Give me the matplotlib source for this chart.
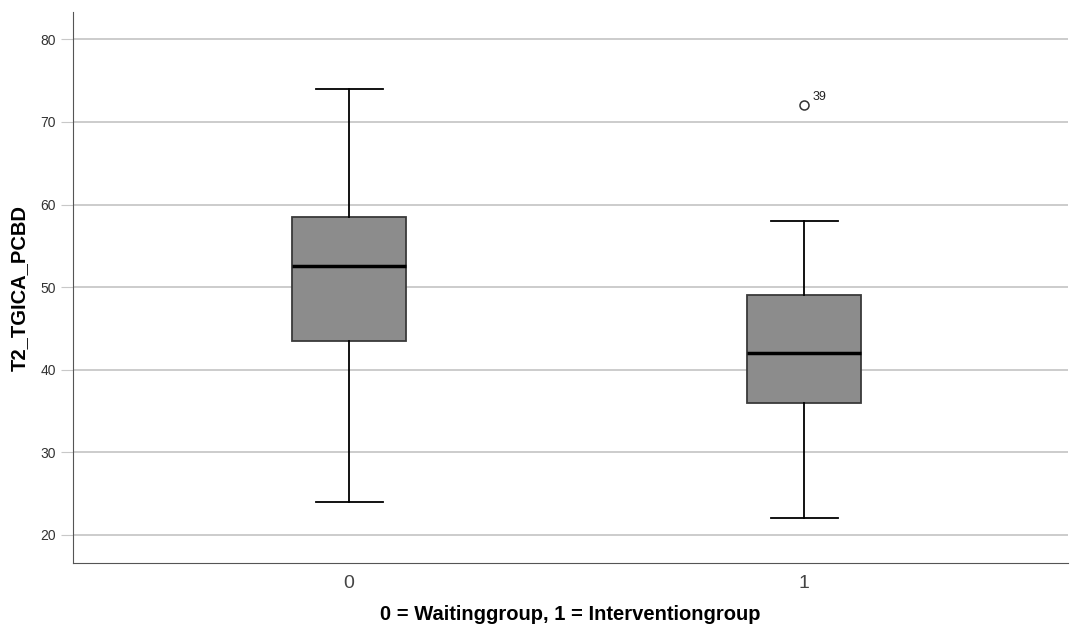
import matplotlib.pyplot as plt

plt.rcParams['font.family'] = ['Liberation Sans', 'DejaVu Sans']

# group summaries
groups = ['0', '1']
q1 = [43.5, 36]
median = [52.5, 42]
q3 = [58.5, 49]
whislo = [24, 22]
whishi = [74, 58]
outliers = [[], [72]]
outlier_ids = [[], ['39']]

stats = []
for i in range(len(groups)):
    stats.append({'label': groups[i], 'q1': q1[i], 'med': median[i], 'q3': q3[i],
                  'whislo': whislo[i], 'whishi': whishi[i], 'fliers': outliers[i]})

fig = plt.figure(figsize=(10.72, 6.37), dpi=100)
ax = fig.add_axes([0.0681, 0.1162, 0.9282, 0.8648])

ax.set_axisbelow(True)
ax.yaxis.grid(True, color='#c8c8c8', linewidth=1.3)

pos = list(range(len(groups)))
ax.bxp(stats, positions=pos, widths=0.25, patch_artist=True,
       boxprops=dict(facecolor='#8c8c8c', edgecolor='#3a3a3a', linewidth=1.3),
       medianprops=dict(color='black', linewidth=2.5),
       whiskerprops=dict(color='black', linewidth=1.3),
       capprops=dict(color='black', linewidth=1.3),
       capwidths=0.147,
       flierprops=dict(marker='o', markerfacecolor='white', markeredgecolor='#333333',
                       markersize=6.5, markeredgewidth=1.1))

# outlier case numbers
for i in pos:
    for v, lab in zip(outliers[i], outlier_ids[i]):
        ax.annotate(lab, (i, v), xytext=(6, 4), textcoords='offset points',
                    fontsize=9, color='#222222')

ax.set_xlim(-0.607, 1.58)
ax.set_ylim(16.6, 83.3)
ax.set_yticks([20, 30, 40, 50, 60, 70, 80])
ax.set_xticks(pos)
ax.set_xticklabels(groups)

for s in ['top', 'right']:
    ax.spines[s].set_visible(False)
ax.spines['left'].set_color('#555555')
ax.spines['bottom'].set_color('#555555')

ax.tick_params(axis='y', length=9, color='#c8c8c8', labelsize=10, labelcolor='#333333')
ax.tick_params(axis='x', length=0, pad=9, labelsize=14, labelcolor='#444444')

ax.set_xlabel('0 = Waitinggroup, 1 = Interventiongroup', fontsize=14.5, fontweight='bold', labelpad=9)
ax.set_ylabel('T2_TGICA_PCBD', fontsize=14.5, fontweight='bold', labelpad=8)

plt.savefig('out.png', dpi=100)
